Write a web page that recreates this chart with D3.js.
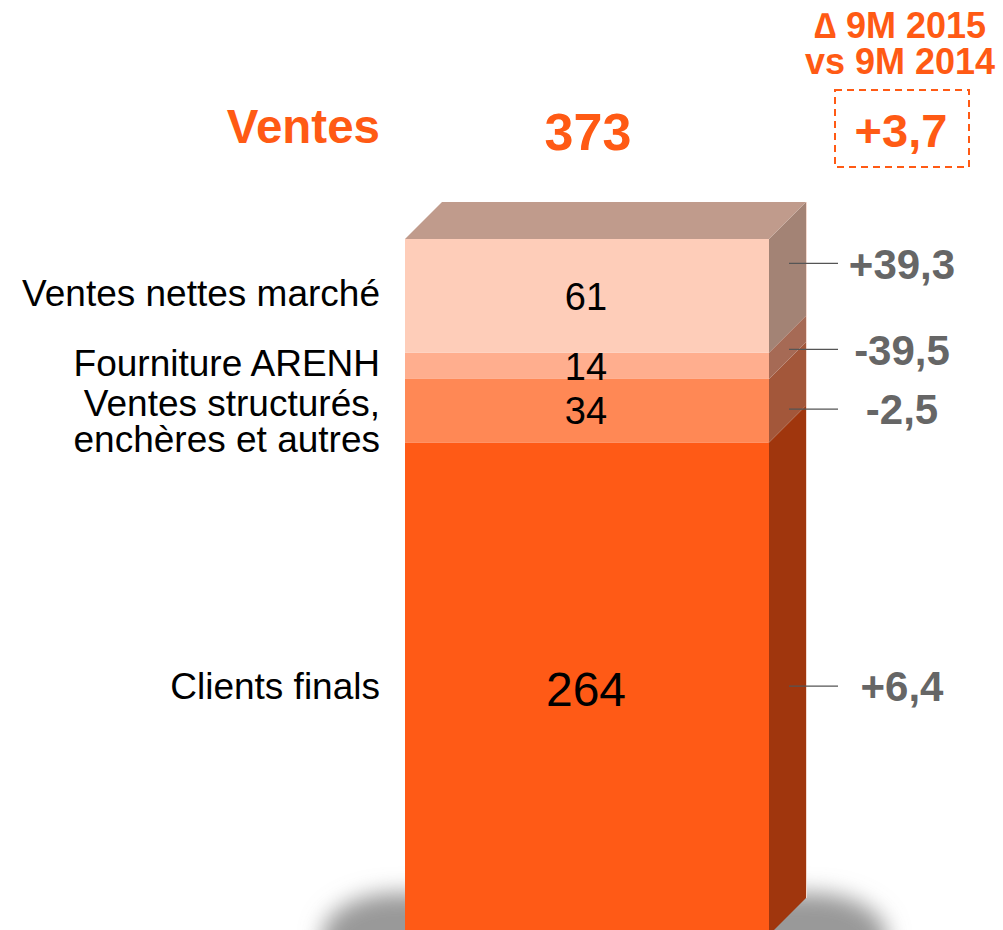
<!DOCTYPE html>
<html>
<head>
<meta charset="utf-8">
<script src="https://cdn.jsdelivr.net/npm/d3@7"></script>
<style>
  html, body { margin: 0; padding: 0; background: #fff; }
  svg { display: block; font-family: "Liberation Sans", Arial, sans-serif; }
</style>
</head>
<body>
<div id="chart"></div>
<script>
// --- data (bottom to top) ---
const categories = ["Clients finals", "Ventes structurés,\nenchères et autres", "Fourniture ARENH", "Ventes nettes marché"];
const values = [264, 34, 14, 61];
const deltas = ["+6,4", "-2,5", "-39,5", "+39,3"];
const totalLabel = "Ventes";
const total = 373;
const totalDelta = "+3,7";
const deltaTitle = ["\u2206 9M 2015", "vs 9M 2014"];

// --- layout / styles ---
const W = 1003, H = 930;
const orange = "#ff5a14";
const frontColors = ["#ff5a16", "#ff8855", "#ffae8e", "#fecdb9"];
const sideColors = ["#a0360d", "#a3573a", "#a66a55", "#a38375"];
const topColor = "#c09b8c";
const barX0 = 405, barX1 = 769, depth = 37;
const leaderShift = [16, 17, 2, -14];

const svg = d3.select("#chart").append("svg")
  .attr("width", W).attr("height", H);

const defs = svg.append("defs");
defs.append("filter").attr("id", "blur")
  .attr("x", "-50%").attr("y", "-50%").attr("width", "200%").attr("height", "200%")
  .append("feGaussianBlur").attr("stdDeviation", 11);

const y = d3.scaleLinear().domain([0, total]).range([935, 239]);

// stacked segments
let acc = 0;
const segs = values.map((v, i) => {
  const s = { i, v, y0: acc, y1: acc + v, cat: categories[i], delta: deltas[i] };
  acc += v;
  return s;
});

// shadow under the bar
svg.append("rect")
  .attr("x", 322).attr("y", 893)
  .attr("width", 565).attr("height", 100)
  .attr("rx", 75).attr("ry", 45)
  .attr("fill", "#999")
  .attr("filter", "url(#blur)");

// front faces
svg.selectAll("rect.front").data(segs).join("rect")
  .attr("class", "front")
  .attr("x", barX0)
  .attr("width", barX1 - barX0)
  .attr("y", d => y(d.y1))
  .attr("height", d => y(d.y0) - y(d.y1))
  .attr("fill", (d, i) => frontColors[i]);

// side faces
svg.selectAll("path.side").data(segs).join("path")
  .attr("class", "side")
  .attr("d", d => {
    const a = y(d.y0), b = y(d.y1);
    return `M${barX1},${a}L${barX1 + depth},${a - depth}L${barX1 + depth},${b - depth}L${barX1},${b}Z`;
  })
  .attr("fill", (d, i) => sideColors[i]);

// top face
const yt = y(total);
svg.append("path")
  .attr("d", `M${barX0},${yt}L${barX0 + depth},${yt - depth}L${barX1 + depth},${yt - depth}L${barX1},${yt}Z`)
  .attr("fill", topColor);

// light edge on the right of side face
svg.append("line")
  .attr("x1", barX1 + depth + 0.5).attr("x2", barX1 + depth + 0.5)
  .attr("y1", yt - depth).attr("y2", y(0) - depth)
  .attr("stroke", "#f3d9cf").attr("stroke-width", 1);

// values inside the bar
const cx = (barX0 + barX1) / 2;
svg.selectAll("text.val").data(segs).join("text")
  .attr("class", "val")
  .attr("x", cx - 1)
  .attr("y", d => (y(d.y0) + y(d.y1)) / 2)
  .attr("dy", "0.36em")
  .attr("text-anchor", "middle")
  .attr("font-size", d => d.v > 100 ? 48 : 38)
  .attr("fill", "#000")
  .text(d => d.v);

// category labels on the left
svg.selectAll("text.cat").data(segs).join("text")
  .attr("class", "cat")
  .attr("text-anchor", "end")
  .attr("font-size", 37)
  .attr("fill", "#000")
  .each(function(d) {
    const lines = d.cat.split("\n");
    const yc = (y(d.y0) + y(d.y1)) / 2;
    d3.select(this).selectAll("tspan").data(lines).join("tspan")
      .attr("x", 380)
      .attr("y", (l, k) => yc + 10 + k * 36 - (lines.length > 1 ? 5 : 0))
      .text(l => l);
  });

// leader lines and deltas
svg.selectAll("line.lead").data(segs).join("line")
  .attr("class", "lead")
  .attr("x1", barX1 + 20).attr("x2", barX1 + 69)
  .attr("y1", (d, i) => (y(d.y0) + y(d.y1)) / 2 - depth / 2 + leaderShift[i])
  .attr("y2", (d, i) => (y(d.y0) + y(d.y1)) / 2 - depth / 2 + leaderShift[i])
  .attr("stroke", "#555").attr("stroke-width", 1.3);

svg.selectAll("text.delta").data(segs).join("text")
  .attr("class", "delta")
  .attr("x", 902)
  .attr("y", (d, i) => (y(d.y0) + y(d.y1)) / 2 - depth / 2 + leaderShift[i])
  .attr("dy", "0.36em")
  .attr("text-anchor", "middle")
  .attr("font-size", 42)
  .attr("font-weight", "bold")
  .attr("fill", "#666")
  .text(d => d.delta);

// header
svg.append("text")
  .attr("x", 380).attr("y", 143)
  .attr("text-anchor", "end")
  .attr("font-size", 47.5).attr("font-weight", "bold")
  .attr("fill", orange)
  .text(totalLabel);

svg.append("text")
  .attr("x", cx + 1).attr("y", 150)
  .attr("text-anchor", "middle")
  .attr("font-size", 52).attr("font-weight", "bold")
  .attr("fill", orange)
  .text(total);

svg.selectAll("text.dtitle").data(deltaTitle).join("text")
  .attr("class", "dtitle")
  .attr("x", 900)
  .attr("y", (d, i) => 38 + i * 36)
  .attr("text-anchor", "middle")
  .attr("font-size", 36).attr("font-weight", "bold")
  .attr("fill", orange)
  .text(d => d);

svg.append("rect")
  .attr("x", 835).attr("y", 90)
  .attr("width", 134).attr("height", 77)
  .attr("fill", "none")
  .attr("stroke", orange).attr("stroke-width", 2)
  .attr("stroke-dasharray", "7,5");

svg.append("text")
  .attr("x", 901).attr("y", 147)
  .attr("text-anchor", "middle")
  .attr("font-size", 47).attr("font-weight", "bold")
  .attr("fill", orange)
  .text(totalDelta);
</script>
</body>
</html>
